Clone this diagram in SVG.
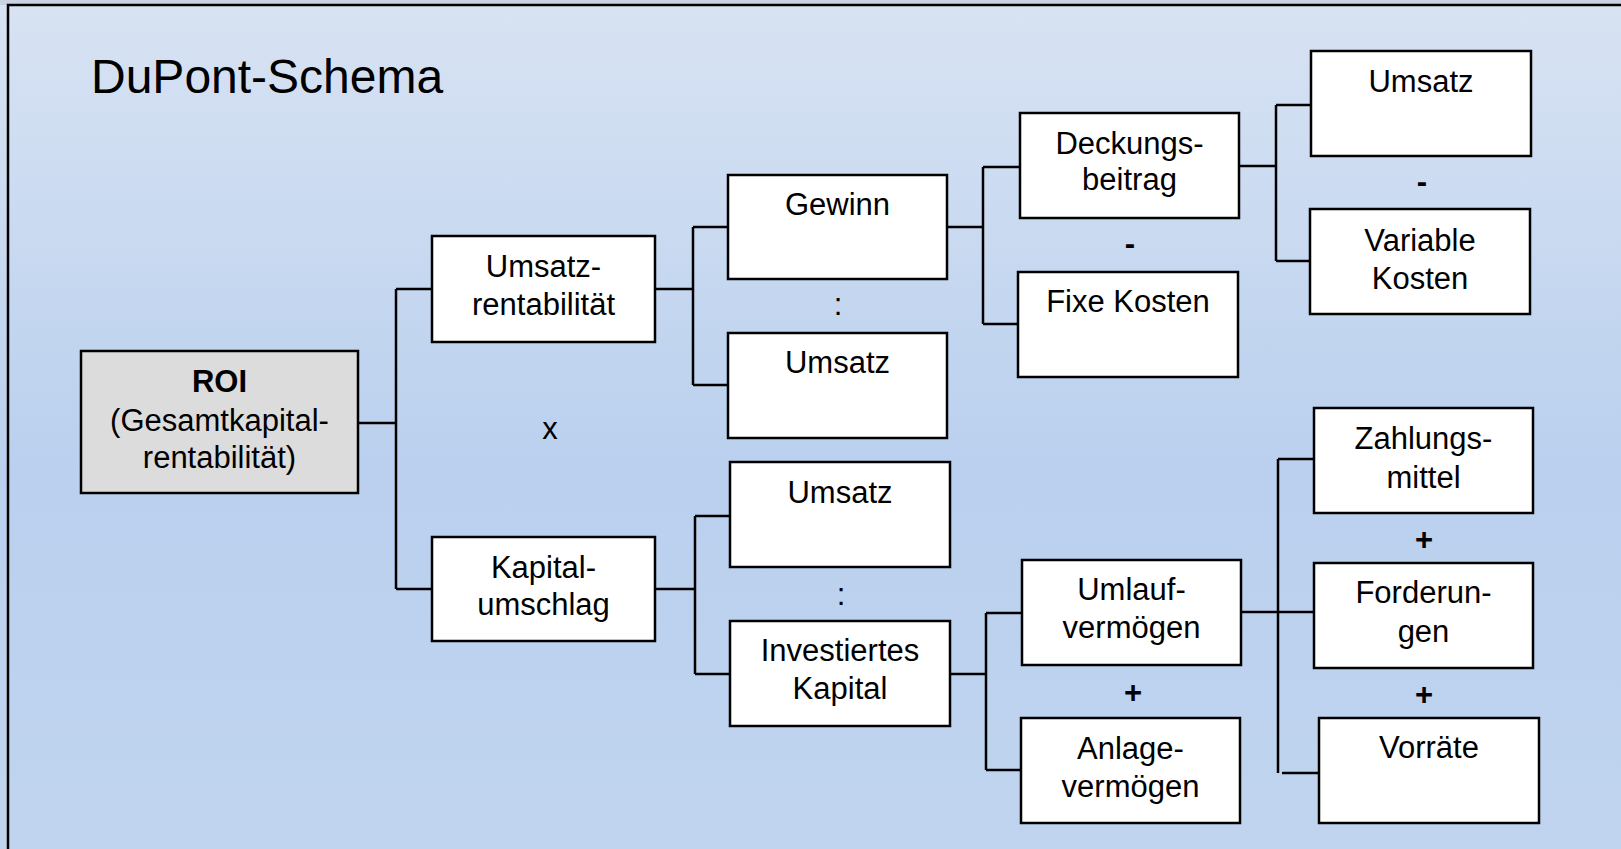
<svg xmlns="http://www.w3.org/2000/svg" width="1621" height="849" viewBox="0 0 1621 849">
  <defs>
    <linearGradient id="bg" x1="0" y1="0" x2="0" y2="1">
      <stop offset="0" stop-color="#d8e3f3"/>
      <stop offset="0.55" stop-color="#bad0ee"/>
      <stop offset="1" stop-color="#c0d4ef"/>
    </linearGradient>
  </defs>
  <style>
    .box { fill: #ffffff; stroke: #000000; stroke-width: 2.5; }
    .roi { fill: #dcdcdc; stroke: #000000; stroke-width: 2.5; }
    .t { font-family: "Liberation Sans", Arial, sans-serif; font-size: 31px; fill: #000000; text-anchor: middle; }
    .op { font-family: "Liberation Sans", Arial, sans-serif; font-size: 31px; fill: #000000; text-anchor: middle; }
    .b { font-weight: bold; }
    .conn { fill: none; stroke: #000000; stroke-width: 2.5; }
  </style>
  <rect x="0" y="0" width="1621" height="849" fill="url(#bg)"/>
  <rect x="0" y="0" width="1621" height="5" fill="#c9d3e2"/>
  <path d="M8 849 V5 H1621" fill="none" stroke="#000" stroke-width="2.5"/>
  <text x="91" y="93" style="font-family: 'Liberation Sans', Arial, sans-serif; font-size: 48px; fill: #000;">DuPont-Schema</text>

  <g id="connectors">
    <path class="conn" d="M358 423 H396 M396 289 V589 M396 289 H432 M396 589 H432"/>
    <path class="conn" d="M655 289 H693 M693 227 V385 M693 227 H728 M693 385 H728"/>
    <path class="conn" d="M655 589 H695 M695 516 V674 M695 516 H730 M695 674 H730"/>
    <path class="conn" d="M948 227 H983 M983 167 V324 M983 167 H1020 M983 324 H1018"/>
    <path class="conn" d="M950 674 H986 M986 613 V770 M986 613 H1022 M986 770 H1021"/>
    <path class="conn" d="M1239 166 H1276 M1276 105 V261 M1276 105 H1311 M1276 261 H1310"/>
    <path class="conn" d="M1241 612 H1314 M1278 459 V773 M1278 459 H1314 M1282 773 H1319"/>
  </g>

  <g id="roi">
    <rect class="roi" x="81" y="351" width="277" height="142"/>
    <text class="t b" x="219.5" y="392">ROI</text>
    <text class="t" x="219.5" y="431">(Gesamtkapital-</text>
    <text class="t" x="219.5" y="468">rentabilität)</text>
  </g>
  <g id="umsatzrentabilitaet">
    <rect class="box" x="432" y="236" width="223" height="106"/>
    <text class="t" x="543.5" y="277">Umsatz-</text>
    <text class="t" x="543.5" y="315">rentabilität</text>
  </g>
  <g id="kapitalumschlag">
    <rect class="box" x="432" y="537" width="223" height="104"/>
    <text class="t" x="543.5" y="578">Kapital-</text>
    <text class="t" x="543.5" y="615">umschlag</text>
  </g>
  <text class="op" x="550" y="439">x</text>

  <g id="gewinn">
    <rect class="box" x="728" y="175" width="219" height="104"/>
    <text class="t" x="837.5" y="215">Gewinn</text>
  </g>
  <g id="umsatz1">
    <rect class="box" x="728" y="333" width="219" height="105"/>
    <text class="t" x="837.5" y="373">Umsatz</text>
  </g>
  <text class="op" x="838" y="315">:</text>

  <g id="umsatz2">
    <rect class="box" x="730" y="462" width="220" height="105"/>
    <text class="t" x="840" y="503">Umsatz</text>
  </g>
  <g id="investiertes-kapital">
    <rect class="box" x="730" y="621" width="220" height="105"/>
    <text class="t" x="840" y="661">Investiertes</text>
    <text class="t" x="840" y="699">Kapital</text>
  </g>
  <text class="op" x="841" y="605">:</text>

  <g id="deckungsbeitrag">
    <rect class="box" x="1020" y="113" width="219" height="105"/>
    <text class="t" x="1129.5" y="154">Deckungs-</text>
    <text class="t" x="1129.5" y="190">beitrag</text>
  </g>
  <g id="fixe-kosten">
    <rect class="box" x="1018" y="272" width="220" height="105"/>
    <text class="t" x="1128" y="312">Fixe Kosten</text>
  </g>
  <text class="op b" x="1130" y="254">-</text>

  <g id="umlaufvermoegen">
    <rect class="box" x="1022" y="560" width="219" height="105"/>
    <text class="t" x="1131.5" y="600">Umlauf-</text>
    <text class="t" x="1131.5" y="638">vermögen</text>
  </g>
  <g id="anlagevermoegen">
    <rect class="box" x="1021" y="718" width="219" height="105"/>
    <text class="t" x="1130.5" y="759">Anlage-</text>
    <text class="t" x="1130.5" y="797">vermögen</text>
  </g>
  <text class="op b" x="1133" y="703">+</text>

  <g id="umsatz3">
    <rect class="box" x="1311" y="51" width="220" height="105"/>
    <text class="t" x="1421" y="92">Umsatz</text>
  </g>
  <g id="variable-kosten">
    <rect class="box" x="1310" y="209" width="220" height="105"/>
    <text class="t" x="1420" y="251">Variable</text>
    <text class="t" x="1420" y="289">Kosten</text>
  </g>
  <text class="op b" x="1422" y="192">-</text>

  <g id="zahlungsmittel">
    <rect class="box" x="1314" y="408" width="219" height="105"/>
    <text class="t" x="1423.5" y="449">Zahlungs-</text>
    <text class="t" x="1423.5" y="488">mittel</text>
  </g>
  <g id="forderungen">
    <rect class="box" x="1314" y="563" width="219" height="105"/>
    <text class="t" x="1423.5" y="603">Forderun-</text>
    <text class="t" x="1423.5" y="642">gen</text>
  </g>
  <g id="vorraete">
    <rect class="box" x="1319" y="718" width="220" height="105"/>
    <text class="t" x="1429" y="758">Vorräte</text>
  </g>
  <text class="op b" x="1424" y="550">+</text>
  <text class="op b" x="1424" y="705">+</text>
</svg>
